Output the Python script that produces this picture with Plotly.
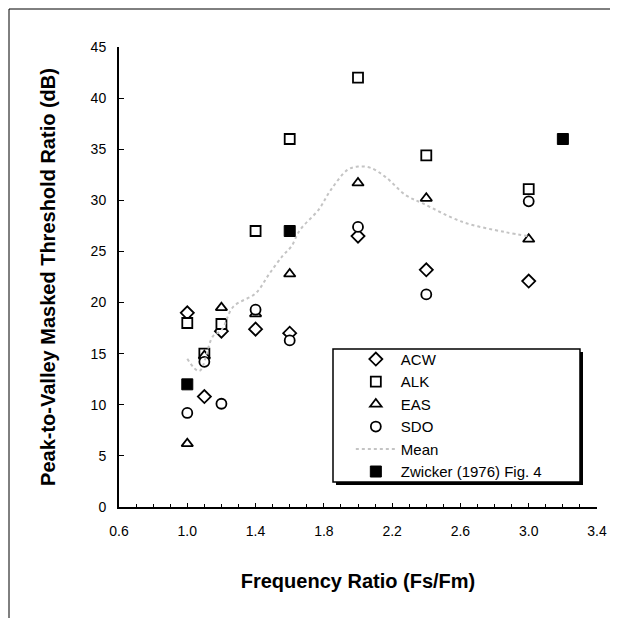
import plotly.graph_objects as go

# frequency ratios (Fs/Fm) at which thresholds were measured
ratio = [1.0, 1.1, 1.2, 1.4, 1.6, 2.0, 2.4, 3.0]

# peak-to-valley masked threshold ratio (dB) per listener
acw = [19.0, 10.8, 17.2, 17.4, 17.0, 26.5, 23.2, 22.1]
alk = [18.0, 15.0, 17.9, 27.0, 36.0, 42.0, 34.4, 31.1]
eas = [6.2, 14.8, 19.5, 18.9, 22.8, 31.7, 30.2, 26.2]
sdo = [9.2, 14.2, 10.1, 19.3, 16.3, 27.4, 20.8, 29.9]

# smoothed mean curve as drawn
mean_x = [1.0, 1.07, 1.15, 1.2, 1.27, 1.4, 1.48, 1.56, 1.61, 1.66, 1.77,
          1.84, 1.94, 2.0, 2.07, 2.16, 2.28, 2.38, 2.61, 2.86, 3.0]
mean_y = [14.5, 13.3, 16.7, 17.3, 19.6, 20.9, 22.8, 24.6, 25.5, 27.1, 29.1,
          31.0, 33.0, 33.3, 33.2, 32.3, 30.5, 29.7, 27.9, 26.9, 26.5]

# Zwicker (1976) Fig. 4
zw_x = [1.0, 1.6, 3.2]
zw_y = [12.0, 27.0, 36.0]

fig = go.Figure()

def open_series(name, y, symbol, size):
    fig.add_trace(go.Scatter(
        x=ratio, y=y, mode='markers', name=name,
        marker=dict(symbol=symbol, size=size, color='white',
                    line=dict(color='black', width=1.8))))

open_series('ACW', acw, 'diamond', 10)
open_series('ALK', alk, 'square', 10)
open_series('EAS', eas, 'triangle-up', 10)
open_series('SDO', sdo, 'circle', 10)

fig.add_trace(go.Scatter(
    x=mean_x, y=mean_y, mode='lines', name='Mean', line_shape='spline',
    line=dict(color='#c4c4c4', width=2, dash='dot')))

fig.add_trace(go.Scatter(
    x=zw_x, y=zw_y, mode='markers', name='Zwicker (1976) Fig. 4',
    marker=dict(symbol='square', size=11, color='black',
                line=dict(color='black', width=1))))

fig.update_layout(
    width=618, height=618,
    # page body margin shifts the figure by 8px, so margins are offset
    margin=dict(l=111, r=29, t=39, b=119),
    paper_bgcolor='white', plot_bgcolor='white',
    font=dict(family='Liberation Sans, Arial', color='black', size=14),
    legend=dict(x=0.485, y=0.357, xanchor='left', yanchor='top',
                bgcolor='rgba(0,0,0,0)', borderwidth=0,
                font=dict(size=15), tracegroupgap=0, itemwidth=40),
    shapes=[
        # legend box with drop shadow
        dict(type='rect', xref='paper', yref='paper', x0=0.454, x1=0.9707,
             y0=0.0478, y1=0.337, fillcolor='black', line=dict(width=0),
             layer='above'),
        dict(type='rect', xref='paper', yref='paper', x0=0.4477, x1=0.9644,
             y0=0.0543, y1=0.3435, fillcolor='white',
             line=dict(color='black', width=1.5), layer='above'),
        # page frame
        dict(type='line', xref='paper', yref='paper', x0=-0.2301, x1=1.1,
             y0=1.0826, y1=1.0826, line=dict(color='black', width=1)),
        dict(type='line', xref='paper', yref='paper', x0=-0.2301, x1=-0.2301,
             y0=1.0826, y1=-0.3, line=dict(color='black', width=1)),
    ],
)

fig.update_xaxes(
    range=[0.6, 3.4], tick0=0.6, dtick=0.4, tickformat='.1f',
    showgrid=False, zeroline=False, showline=True, linecolor='black',
    linewidth=2, ticks='inside', ticklen=4, tickcolor='black',
    minor=dict(dtick=0.1, ticks='inside', ticklen=3, tickcolor='black'),
    tickfont=dict(size=14), ticklabelstandoff=10,
    title=dict(text='<b>Frequency Ratio (Fs/Fm)</b>', font=dict(size=20),
               standoff=36))

fig.update_yaxes(
    range=[0, 45], dtick=5,
    showgrid=False, zeroline=False, showline=True, linecolor='black',
    linewidth=2, ticks='inside', ticklen=5, tickcolor='black',
    tickfont=dict(size=14), ticklabelstandoff=8,
    title=dict(text='<b>Peak-to-Valley Masked Threshold Ratio (dB)</b>',
               font=dict(size=20), standoff=30))

fig.write_html("out.html")
